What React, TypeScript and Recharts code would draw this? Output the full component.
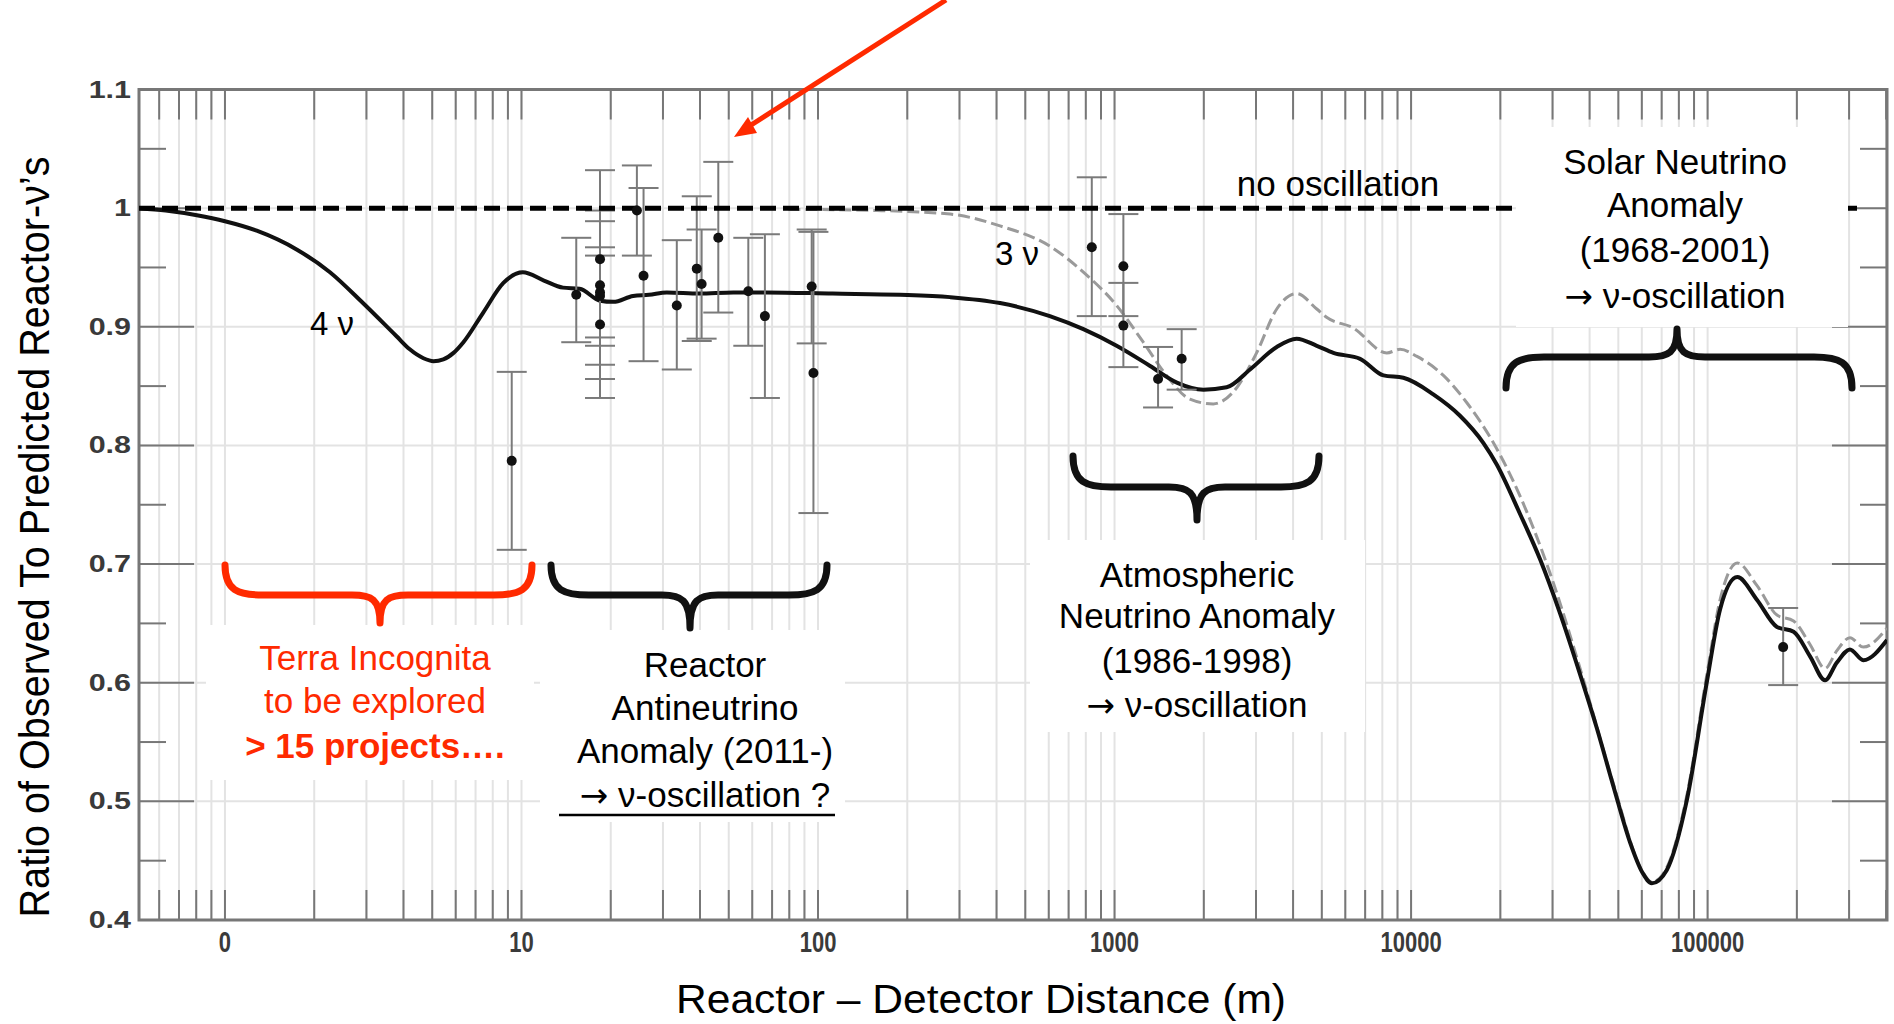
import React from "react";
import {
  ComposedChart,
  CartesianGrid,
  Line,
  Scatter,
  ErrorBar,
  XAxis,
  YAxis,
  ReferenceLine,
  ReferenceArea,
} from "recharts";

// 4-neutrino fit (solid black), distance in metres
const fourNuDist = [
  0.513, 0.631, 0.804, 1, 1.28, 1.75, 2.26, 2.92, 3.79, 4.2, 4.67, 5.05, 5.45,
  5.9, 6.37, 7.43, 8.69, 10.1, 11.9, 13.8, 15.7, 18.4, 20.4, 23.8, 26.9, 30.9,
  39.8, 51.8, 67.1, 112, 189, 279, 411, 605, 785, 1016, 1318, 1622, 1995, 2388,
  2864, 3524, 4111, 4808, 5470, 6730, 8072, 9419, 11885, 14620, 17540, 19450,
  23330, 27230, 31840, 37150, 42270, 48080, 54830, 60260, 64860, 72780, 85110,
  99310, 110200, 125900, 146600, 171400, 195000, 221800, 248900, 272900,
  302000, 335000, 402700,
];
const fourNuRatio = [
  1.0, 0.998, 0.994, 0.989, 0.981, 0.965, 0.946, 0.92, 0.892, 0.881, 0.8735,
  0.871, 0.8725, 0.878, 0.887, 0.912, 0.937, 0.946, 0.939, 0.933, 0.932, 0.922,
  0.921, 0.926, 0.927, 0.929, 0.928, 0.929, 0.929, 0.928, 0.927, 0.925, 0.92,
  0.909, 0.898, 0.884, 0.867, 0.853, 0.847, 0.849, 0.864, 0.883, 0.89, 0.884,
  0.878, 0.873, 0.859, 0.857, 0.843, 0.825, 0.802, 0.784, 0.742, 0.704, 0.658,
  0.607, 0.562, 0.513, 0.465, 0.44, 0.431, 0.442, 0.501, 0.6, 0.662, 0.689,
  0.67, 0.647, 0.643, 0.622, 0.602, 0.617, 0.628, 0.619, 0.636,
];

// 3-neutrino curve (grey dashed)
const threeNuDist = [
  79.4, 158, 279, 411, 605, 785, 1016, 1250, 1496, 1795, 2153, 2512, 3013, 3524,
  4111, 4808, 5188, 6383, 8279, 9183, 10470, 12850, 15420, 18970, 21040, 25880,
  30200, 37150, 48080, 60260, 64860, 72780, 85110, 99310, 110200, 125900,
  146600, 171400, 195000, 221800, 248900, 272900, 302000, 335000, 402700,
];
const threeNuRatio = [
  0.999, 0.998, 0.995, 0.985, 0.968, 0.946, 0.918, 0.887, 0.859, 0.839, 0.835,
  0.845, 0.878, 0.915, 0.928, 0.915, 0.908, 0.899, 0.878, 0.881, 0.875, 0.859,
  0.836, 0.802, 0.781, 0.73, 0.684, 0.612, 0.515, 0.441, 0.432, 0.444, 0.505,
  0.606, 0.67, 0.701, 0.682, 0.657, 0.652, 0.632, 0.612, 0.627, 0.638, 0.63,
  0.646,
];

// experiments with error bars
const expDist = [
  9.27, 15.3, 18.4, 18.4, 18.4, 18.4, 18.4, 24.5, 25.8, 33.4, 39, 40.5, 46.1,
  58.2, 66.2, 95.2, 96.5, 838, 1071, 1071, 1402, 1684, 179800,
];
const expRatio = [
  0.787, 0.927, 0.957, 0.935, 0.926, 0.902, 0.929, 0.998, 0.943, 0.918, 0.949,
  0.936, 0.975, 0.93, 0.909, 0.934, 0.861, 0.967, 0.951, 0.901, 0.856, 0.873,
  0.63,
];
const expErrLow = [
  0.075, 0.04, 0.073, 0.067, 0.07, 0.062, 0.038, 0.038, 0.072, 0.054, 0.061,
  0.046, 0.063, 0.046, 0.069, 0.048, 0.118, 0.058, 0.042, 0.035, 0.024, 0.026,
  0.032,
];
const expErrHigh = [
  0.075, 0.048, 0.075, 0.063, 0.063, 0.058, 0.038, 0.038, 0.074, 0.055, 0.061,
  0.046, 0.064, 0.045, 0.069, 0.048, 0.119, 0.059, 0.044, 0.036, 0.027, 0.025,
  0.033,
];

const xTickValues = [1, 10, 100, 1000, 10000, 100000];
const xTickLabels = ["0", "10", "100", "1000", "10000", "100000"];
const yTickValues = [0.4, 0.5, 0.6, 0.7, 0.8, 0.9, 1, 1.1];
const yTickLabels = ["0.4", "0.5", "0.6", "0.7", "0.8", "0.9", "1", "1.1"];
const yMajor = [0.5, 0.6, 0.7, 0.8, 0.9, 1];
const yMinor = [0.45, 0.55, 0.65, 0.75, 0.85, 0.95, 1.05];
const noOscRatio = 1;
const noOscEnd = 319000;

const fourNu = fourNuDist.map((x, i) => ({ x, y: fourNuRatio[i] }));
const threeNu = threeNuDist.map((x, i) => ({ x, y: threeNuRatio[i] }));
const experiments = expDist.map((x, i) => ({
  x,
  y: expRatio[i],
  err: [expErrLow[i], expErrHigh[i]],
}));

const W = 1894;
const H = 1024;
const X_MIN = 0.513;
const X_MAX = 402700;
const Y_MIN = 0.4;
const Y_MAX = 1.1;
const DECADE_PX = 296.5; // pixels per decade on the x axis
const Y_UNIT_PX = 1186; // pixels per 1.0 of ratio
const FONT = "'Liberation Sans', Arial, Helvetica, sans-serif";
const ARROW_FONT = "'DejaVu Sans', sans-serif";
const RED = "#ff2a00";

// minor log grid positions 2..9 of each decade
const minorGrid: number[] = [];
for (let k = -1; k <= 5; k++) {
  for (let m = 1; m <= 9; m++) {
    const v = Number((m * Math.pow(10, k)).toPrecision(6));
    if (v > X_MIN && v < X_MAX) minorGrid.push(v);
  }
}
const shiftX = (v: number, px: number) => v * Math.pow(10, px / DECADE_PX);

const XTick = (props: any) => {
  const { x, y, payload } = props;
  const i = xTickValues.indexOf(payload.value);
  return (
    <g transform={`translate(${x},${y + 32}) scale(1,1.3)`}>
      <text
        x={0}
        y={0}
        textAnchor="middle"
        fontSize={22}
        fontWeight={700}
        fill="#3a3a3a"
        fontFamily={FONT}
      >
        {xTickLabels[i]}
      </text>
    </g>
  );
};

const YTick = (props: any) => {
  const { x, y, payload } = props;
  const i = yTickValues.findIndex((v) => Math.abs(v - payload.value) < 1e-6);
  return (
    <g transform={`translate(${x},${y + 8}) scale(1.27,1)`}>
      <text
        x={0}
        y={0}
        textAnchor="end"
        fontSize={24}
        fontWeight={700}
        fill="#3a3a3a"
        fontFamily={FONT}
      >
        {yTickLabels[i]}
      </text>
    </g>
  );
};

const Dot = (props: any) => (
  <circle cx={props.cx} cy={props.cy} r={5} fill="#111" />
);

// horizontal curly brace; yEnd = arm ends, yTip = pointed middle
function bracePath(
  x1: number,
  x2: number,
  tip: number,
  yEnd: number,
  yMid: number,
  yTip: number
) {
  const r = 38;
  const r2 = 28;
  const side = (xe: number, dir: number) =>
    `M ${xe} ${yEnd} C ${xe} ${yEnd + (yMid - yEnd) * 0.85}, ${
      xe + dir * r * 0.35
    } ${yMid}, ${xe + dir * r} ${yMid} L ${tip - dir * r2} ${yMid} C ${
      tip - dir * r2 * 0.3
    } ${yMid}, ${tip} ${yMid + (yTip - yMid) * 0.15}, ${tip} ${yTip}`;
  return side(x1, 1) + " " + side(x2, -1);
}

// a line that may start with an arrow glyph
const lineContent = (l: string) =>
  l.startsWith("→") ? (
    <>
      <tspan fontFamily={ARROW_FONT} fontSize={34}>
        →
      </tspan>
      {l.slice(1)}
    </>
  ) : (
    l
  );

const txt = (
  lines: string[],
  cx: number,
  baselines: number[],
  color = "#000",
  boldLast = false
) =>
  lines.map((l, i) => (
    <text
      key={l}
      x={cx}
      y={baselines[i]}
      textAnchor="middle"
      fontSize={35}
      fill={color}
      fontWeight={boldLast && i === lines.length - 1 ? 700 : 400}
      fontFamily={FONT}
    >
      {lineContent(l)}
    </text>
  ));

export default function App() {
  const tickLen = 30 / Y_UNIT_PX;
  return (
    <div
      style={{
        position: "absolute",
        left: 0,
        top: 0,
        width: W,
        height: H,
        background: "#fff",
      }}
    >
      <ComposedChart
        width={W}
        height={H}
        margin={{ top: 89.5, right: 7, bottom: 0, left: 0 }}
      >
        <CartesianGrid
          stroke="#e3e3e3"
          strokeWidth={2}
          verticalValues={minorGrid}
          horizontalValues={yMajor}
        />
        <XAxis
          dataKey="x"
          type="number"
          scale="log"
          domain={[X_MIN, X_MAX]}
          allowDataOverflow
          ticks={xTickValues}
          interval={0}
          axisLine={false}
          tickLine={false}
          tickSize={0}
          tickMargin={0}
          height={104}
          tick={<XTick />}
        />
        <YAxis
          dataKey="y"
          type="number"
          domain={[Y_MIN, Y_MAX]}
          allowDataOverflow
          ticks={yTickValues}
          interval={0}
          axisLine={false}
          tickLine={false}
          tickSize={0}
          tickMargin={8}
          width={139}
          tick={<YTick />}
        />
        {/* frame ticks */}
        {minorGrid.map((v) => (
          <ReferenceLine
            key={"b" + v}
            segment={[
              { x: v, y: Y_MIN },
              { x: v, y: Y_MIN + tickLen },
            ]}
            stroke="#777"
            strokeWidth={2}
          />
        ))}
        {minorGrid.map((v) => (
          <ReferenceLine
            key={"t" + v}
            segment={[
              { x: v, y: Y_MAX },
              { x: v, y: Y_MAX - tickLen },
            ]}
            stroke="#777"
            strokeWidth={2}
          />
        ))}
        {[...yMajor, ...yMinor].map((v) => {
          const len = yMajor.includes(v) ? 55 : 27;
          return (
            <ReferenceLine
              key={"l" + v}
              segment={[
                { x: X_MIN, y: v },
                { x: shiftX(X_MIN, len), y: v },
              ]}
              stroke="#777"
              strokeWidth={2}
            />
          );
        })}
        {[...yMajor, ...yMinor].map((v) => {
          const len = yMajor.includes(v) ? 55 : 27;
          return (
            <ReferenceLine
              key={"r" + v}
              segment={[
                { x: shiftX(X_MAX, -len), y: v },
                { x: X_MAX, y: v },
              ]}
              stroke="#777"
              strokeWidth={2}
            />
          );
        })}
        <Line
          data={threeNu}
          dataKey="y"
          type="monotone"
          stroke="#9a9a9a"
          strokeWidth={3}
          strokeDasharray="12 5"
          dot={false}
          isAnimationActive={false}
        />
        <Line
          data={fourNu}
          dataKey="y"
          type="monotone"
          stroke="#111"
          strokeWidth={4}
          dot={false}
          isAnimationActive={false}
        />
        <Scatter
          data={experiments}
          shape={<Dot />}
          isAnimationActive={false}
        >
          <ErrorBar
            dataKey="err"
            direction="y"
            width={15}
            stroke="#7a7a7a"
            strokeWidth={2}
            isAnimationActive={false}
          />
        </Scatter>
        <ReferenceLine
          segment={[
            { x: X_MIN, y: noOscRatio },
            { x: noOscEnd, y: noOscRatio },
          ]}
          stroke="#000"
          strokeWidth={5}
          strokeDasharray="16 7"
        />
        <ReferenceArea
          x1={X_MIN}
          x2={X_MAX}
          y1={Y_MIN}
          y2={Y_MAX}
          fill="none"
          stroke="#777"
          strokeWidth={3}
        />
      </ComposedChart>

      <svg
        width={W}
        height={H}
        style={{ position: "absolute", left: 0, top: 0, pointerEvents: "none" }}
      >
        {/* white boxes behind annotations */}
        <rect x={206} y={625} width={328} height={155} fill="#fff" />
        <rect x={540} y={630} width={305} height={192} fill="#fff" />
        <rect x={1030} y={540} width={335} height={192} fill="#fff" />
        <rect x={1516} y={127} width={332} height={200} fill="#fff" />

        {/* axis titles */}
        <text
          x={34}
          y={537}
          transform="rotate(-90, 34, 537)"
          textAnchor="middle"
          dominantBaseline="central"
          fontSize={43}
          textLength={761}
          lengthAdjust="spacingAndGlyphs"
          fill="#000"
          fontFamily={FONT}
        >
          Ratio of Observed To Predicted Reactor-ν’s
        </text>
        <text
          x={981}
          y={1013}
          textAnchor="middle"
          fontSize={40}
          textLength={610}
          lengthAdjust="spacingAndGlyphs"
          fill="#000"
          fontFamily={FONT}
        >
          Reactor – Detector Distance (m)
        </text>

        {/* curve labels */}
        <text x={1338} y={196} textAnchor="middle" fontSize={35} fontFamily={FONT}>
          no oscillation
        </text>
        <text x={995} y={265} fontSize={33} fontFamily={FONT}>
          3 ν
        </text>
        <text x={310} y={335} fontSize={33} fontFamily={FONT}>
          4 ν
        </text>

        {/* braces */}
        <g fill="none" strokeWidth={7} strokeLinecap="round">
          <path d={bracePath(225, 532, 380, 565, 595, 623)} stroke={RED} />
          <path d={bracePath(551, 827, 690, 565, 595, 628)} stroke="#111" />
          <path d={bracePath(1073, 1319, 1197, 456, 487, 520)} stroke="#111" />
          <path d={bracePath(1506, 1852, 1677, 388, 357, 329)} stroke="#111" />
        </g>

        {/* annotation texts */}
        {txt(
          ["Terra Incognita", "to be explored", "> 15 projects…."],
          375,
          [670, 713, 758],
          RED,
          true
        )}
        {txt(
          ["Reactor", "Antineutrino", "Anomaly (2011-)", "→ ν-oscillation ?"],
          705,
          [677, 720, 763, 807]
        )}
        <line x1={559} y1={815} x2={835} y2={815} stroke="#000" strokeWidth={2.5} />
        {txt(
          ["Atmospheric", "Neutrino Anomaly", "(1986-1998)", "→ ν-oscillation"],
          1197,
          [587, 628, 673, 717]
        )}
        {txt(
          ["Solar Neutrino", "Anomaly", "(1968-2001)", "→ ν-oscillation"],
          1675,
          [174, 217, 262, 308]
        )}

        {/* red pointer arrow */}
        <line x1={946} y1={0} x2={748} y2={127} stroke={RED} strokeWidth={5} />
        <polygon points="734,137 757,133 748,117" fill={RED} />
      </svg>
    </div>
  );
}
